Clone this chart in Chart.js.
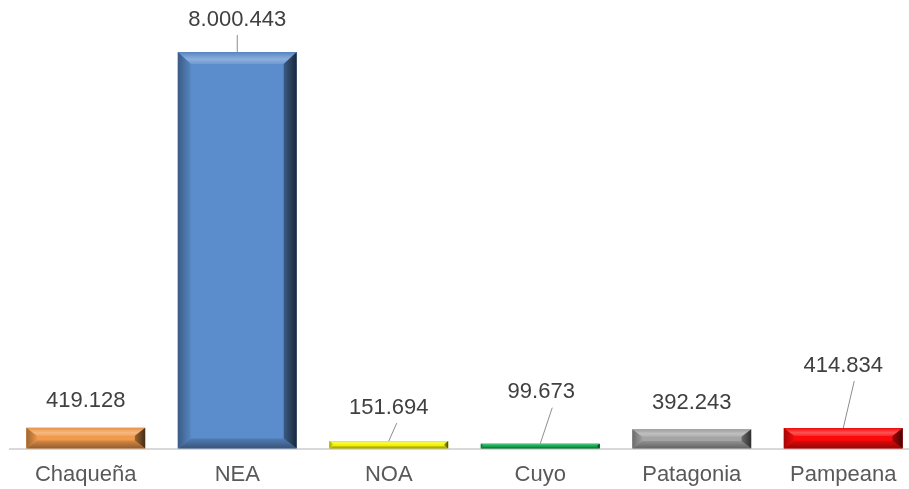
<!DOCTYPE html>
<html>
<head>
<meta charset="utf-8">
<script src="https://cdn.jsdelivr.net/npm/chart.js@4"></script>
<style>
  html, body { margin: 0; padding: 0; background: #fff; overflow: hidden; }
  #wrap { width: 919px; height: 504px; }
</style>
</head>
<body>
<div id="wrap"><canvas id="chart"></canvas></div>
<script>
const regions = ["Chaqueña", "NEA", "NOA", "Cuyo", "Patagonia", "Pampeana"];
const values = [419128, 8000443, 151694, 99673, 392243, 414834];
const valueLabels = ["419.128", "8.000.443", "151.694", "99.673", "392.243", "414.834"];
const barColors = ["#F29A4C", "#5B8CCB", "#F5F50A", "#10A84E", "#A4A4A4", "#FA0A0A"];

// label placement relative to bar top: [dx, dy, hasLeader]
const labelPos = [[0, -27, false], [0, -32, true], [0, -33, true], [1, -52, true], [0, -26, false], [0, -62, true]];
// leader start relative to label centre
const leaderStart = [[0, 0], [0, 15], [8, 15], [11, 16], [0, 0], [11, 15]];

const shade = (hex, f) => {
  const n = parseInt(hex.slice(1), 16);
  let r = (n >> 16) & 255, g = (n >> 8) & 255, b = n & 255;
  if (f >= 0) {
    r += (255 - r) * f; g += (255 - g) * f; b += (255 - b) * f;
  } else {
    r *= 1 + f; g *= 1 + f; b *= 1 + f;
  }
  return `rgb(${Math.round(r)},${Math.round(g)},${Math.round(b)})`;
};

// bevelled look drawn over the library's bars
const bevelPlugin = {
  id: "bevel",
  afterDatasetsDraw(chart) {
    const ctx = chart.ctx;
    const meta = chart.getDatasetMeta(0);
    meta.data.forEach((bar, i) => {
      const c = barColors[i];
      const x0 = bar.x - bar.width / 2, x1 = bar.x + bar.width / 2;
      const y0 = bar.y, y1 = bar.base;
      const h = y1 - y0;
      const b = Math.min(12, h / 2.6);
      const bb = Math.min(10, h / 2.6);
      const bs = Math.min(13, h / 2);
      ctx.save();
      // top
      let g = ctx.createLinearGradient(0, y0, 0, y0 + b);
      g.addColorStop(0, shade(c, -0.05));
      g.addColorStop(0.6, shade(c, 0.3));
      g.addColorStop(1, shade(c, 0.12));
      ctx.fillStyle = g;
      ctx.beginPath();
      ctx.moveTo(x0, y0); ctx.lineTo(x1, y0); ctx.lineTo(x1 - bs, y0 + b); ctx.lineTo(x0 + bs, y0 + b);
      ctx.closePath(); ctx.fill();
      // bottom
      g = ctx.createLinearGradient(0, y1 - bb, 0, y1);
      g.addColorStop(0, shade(c, -0.12));
      g.addColorStop(1, shade(c, -0.4));
      ctx.fillStyle = g;
      ctx.beginPath();
      ctx.moveTo(x0, y1); ctx.lineTo(x1, y1); ctx.lineTo(x1 - bs, y1 - bb); ctx.lineTo(x0 + bs, y1 - bb);
      ctx.closePath(); ctx.fill();
      // left
      g = ctx.createLinearGradient(x0, 0, x0 + bs, 0);
      g.addColorStop(0, shade(c, -0.35));
      g.addColorStop(1, shade(c, -0.05));
      ctx.fillStyle = g;
      ctx.beginPath();
      ctx.moveTo(x0, y0); ctx.lineTo(x0 + bs, y0 + b); ctx.lineTo(x0 + bs, y1 - bb); ctx.lineTo(x0, y1);
      ctx.closePath(); ctx.fill();
      // right
      g = ctx.createLinearGradient(x1 - bs, 0, x1, 0);
      g.addColorStop(0, shade(c, -0.35));
      g.addColorStop(1, shade(c, -0.72));
      ctx.fillStyle = g;
      ctx.beginPath();
      ctx.moveTo(x1, y0); ctx.lineTo(x1 - bs, y0 + b); ctx.lineTo(x1 - bs, y1 - bb); ctx.lineTo(x1, y1);
      ctx.closePath(); ctx.fill();
      ctx.restore();
    });
  }
};

const labelPlugin = {
  id: "valueLabels",
  afterDatasetsDraw(chart) {
    const ctx = chart.ctx;
    const meta = chart.getDatasetMeta(0);
    ctx.save();
    ctx.font = "22px 'Liberation Sans', Arial, sans-serif";
    ctx.fillStyle = "#404040";
    ctx.textAlign = "center";
    ctx.textBaseline = "middle";
    meta.data.forEach((bar, i) => {
      const [dx, dy, leader] = labelPos[i];
      const lx = bar.x + dx, ly = bar.y + dy;
      ctx.fillText(valueLabels[i], lx, ly);
      if (leader) {
        ctx.strokeStyle = "#8c8c8c";
        ctx.lineWidth = 1;
        ctx.beginPath();
        ctx.moveTo(lx + leaderStart[i][0], ly + leaderStart[i][1]);
        ctx.lineTo(bar.x, bar.y);
        ctx.stroke();
      }
    });
    ctx.restore();
  }
};

new Chart(document.getElementById("chart").getContext("2d"), {
  type: "bar",
  data: {
    labels: regions,
    datasets: [{
      data: values,
      backgroundColor: barColors,
      borderWidth: 0,
      barPercentage: 0.785,
      categoryPercentage: 1
    }]
  },
  options: {
    responsive: true,
    maintainAspectRatio: false,
    animation: false,
    layout: { padding: { left: 10, right: 0, top: 0, bottom: 3 } },
    plugins: { legend: { display: false }, tooltip: { enabled: false } },
    scales: {
      x: {
        grid: { display: false, drawTicks: false },
        border: { color: "#d9d9d9", width: 2 },
        ticks: {
          color: "#595959",
          padding: 13,
          font: { family: "'Liberation Sans', Arial, sans-serif", size: 22 }
        }
      },
      y: {
        display: false,
        min: 0,
        max: 9050000
      }
    }
  },
  plugins: [bevelPlugin, labelPlugin]
});
</script>
</body>
</html>
